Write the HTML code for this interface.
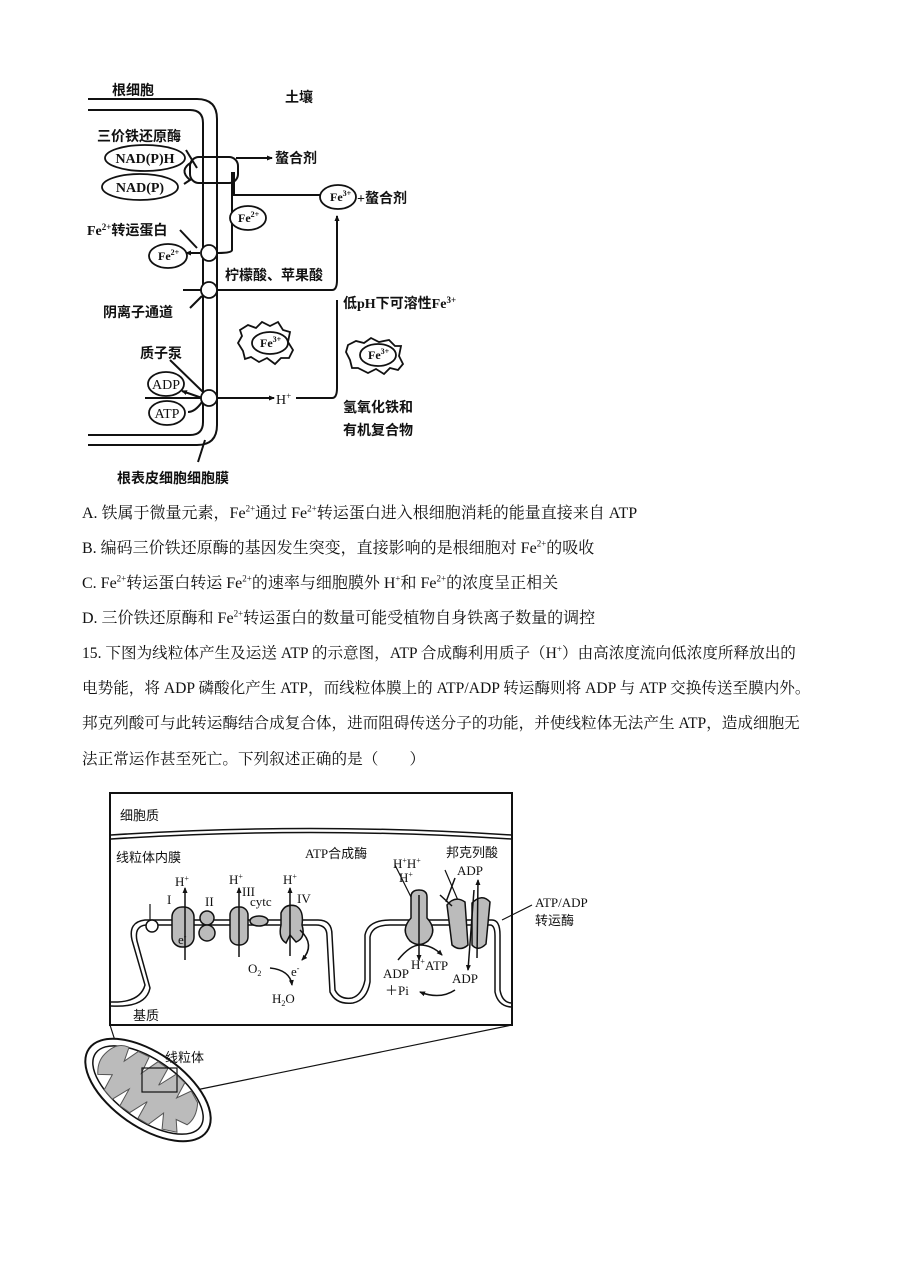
<!DOCTYPE html>
<html><head><meta charset="utf-8"><style>
html,body{margin:0;padding:0;background:#fff;}
body{width:900px;height:1273px;position:relative;overflow:hidden;font-family:"Liberation Serif","Noto Serif CJK SC","Noto Sans CJK SC",serif;color:#111;}
.q{position:absolute;left:82px;font-size:16px;white-space:nowrap;}
.p{font-size:15.6px;}
sup{font-size:9px;}
</style></head><body>
<svg width="900" height="1273" style="position:absolute;left:0;top:0" font-family="Liberation Serif, Noto Sans CJK SC, sans-serif">
<defs><marker id="a" markerWidth="6" markerHeight="6" refX="5" refY="3" orient="auto" markerUnits="userSpaceOnUse"><path d="M0,0.5 L6,3 L0,5.5z" fill="#111"/></marker></defs>
<g fill="none" stroke="#111" stroke-width="2">
<path d="M88,99 H197 Q217,99 217,119 V425 Q217,445 197,445 H88"/>
<path d="M88,110 H190 Q203,110 203,123 V422 Q203,435 190,435 H88"/>
<rect x="190" y="157" width="48" height="26" rx="9"/>
<path d="M236,158 H272" marker-end="url(#a)"/>
<path d="M234,172 V195 H320"/>
<path d="M232,172 V250 Q232,253 218,253"/>
<path d="M200,253 H186" marker-end="url(#a)"/>
<path d="M192,162 Q178,170 190,180 L184,184" />
<path d="M183,290 H332 Q337,290 337,280 V216" marker-end="url(#a)"/>
<path d="M145,398 H274" marker-end="url(#a)"/>
<path d="M296,398 H332 Q337,398 337,388 V300"/>
<path d="M202,398 L182,391" marker-end="url(#a)"/>
<path d="M202,402 Q195,412 188,412"/>
<path d="M197,168 L186,150"/><path d="M197,248 L180,230"/><path d="M202,296 L190,308"/><path d="M203,392 L170,360"/><path d="M205,440 L198,462"/>
</g>
<g fill="#fff" stroke="#111" stroke-width="1.8">
<ellipse cx="145" cy="158" rx="40" ry="13"/><ellipse cx="140" cy="187" rx="38" ry="13"/>
<ellipse cx="338" cy="197" rx="18" ry="12"/><ellipse cx="248" cy="218" rx="18" ry="12"/>
<ellipse cx="168" cy="256" rx="19" ry="12"/>
<circle cx="209" cy="253" r="8"/><circle cx="209" cy="290" r="8"/><circle cx="209" cy="398" r="8"/>
<ellipse cx="166" cy="384" rx="18" ry="12"/><ellipse cx="167" cy="413" rx="18" ry="12"/>
<path d="M240,330 l8,-5 l8,3 l6,-6 l8,4 l8,-4 l5,8 l7,2 l-2,10 l5,8 l-4,8 l-8,0 l-6,6 l-8,-6 l-8,4 l-8,-5 l-6,2 l-2,-8 l-5,-8 l4,-7z"/>
<ellipse cx="270" cy="343" rx="18" ry="11"/>
<path d="M348,345 l8,-4 l8,2 l7,-5 l8,4 l10,-2 l6,6 l6,0 l-2,10 l4,8 l-5,6 l-8,-2 l-6,6 l-8,-5 l-8,4 l-10,-5 l-6,0 l-2,-8 l-4,-8z"/>
<ellipse cx="378" cy="355" rx="18" ry="11"/>
</g>
<g font-size="14" font-weight="bold" fill="#111">
<text x="112" y="95">根细胞</text><text x="285" y="102">土壤</text>
<text x="97" y="141">三价铁还原酶</text>
<text x="145" y="163" text-anchor="middle">NAD(P)H</text><text x="140" y="192" text-anchor="middle">NAD(P)</text>
<text x="275" y="163">螯合剂</text>
<text x="330" y="201" font-size="12">Fe<tspan font-size="8" dy="-5">3+</tspan></text><text x="357" y="203">+螯合剂</text>
<text x="238" y="222" font-size="12">Fe<tspan font-size="8" dy="-5">2+</tspan></text>
<text x="87" y="235">Fe<tspan font-size="9" dy="-5">2+</tspan><tspan dy="5">转运蛋白</tspan></text>
<text x="158" y="260" font-size="12">Fe<tspan font-size="8" dy="-5">2+</tspan></text>
<text x="225" y="280">柠檬酸、苹果酸</text>
<text x="103" y="317">阴离子通道</text>
<text x="343" y="308">低pH下可溶性Fe<tspan font-size="9" dy="-5">3+</tspan></text>
<text x="260" y="347" font-size="12">Fe<tspan font-size="8" dy="-5">3+</tspan></text>
<text x="368" y="359" font-size="12">Fe<tspan font-size="8" dy="-5">3+</tspan></text>
<text x="140" y="358">质子泵</text>
<text x="166" y="389" text-anchor="middle" font-weight="normal">ADP</text><text x="167" y="418" text-anchor="middle" font-weight="normal">ATP</text>
<text x="276" y="404" font-weight="normal">H<tspan font-size="9" dy="-5">+</tspan></text>
<text x="343" y="412">氢氧化铁和</text><text x="343" y="435">有机复合物</text>
<text x="117" y="483">根表皮细胞细胞膜</text>
</g>
<!-- diagram 2 -->
<g fill="none" stroke="#111">
<rect x="110" y="793" width="402" height="232" stroke-width="2"/>
<path d="M111,835 Q310,822 511,835" stroke-width="1.5"/><path d="M111,839 Q310,826 511,839" stroke-width="1.5"/>
<path d="M111,1002 Q140,1003 145,985 L132,940 Q128,922 145,920 H318 Q332,920 332,935 L335,990 Q340,1000 352,998 Q362,995 365,980 V935 Q368,920 390,920 H492 Q500,920 500,935 V990 Q502,1002 511,1003" stroke-width="1.5"/>
<path d="M111,1006 Q146,1008 150,988 L137,941 Q134,926 146,925 H316 Q327,925 327,936 L330,992 Q336,1005 353,1003 Q367,1000 370,982 V937 Q372,925 390,925 H490 Q495,925 495,936 V992 Q498,1006 511,1007" stroke-width="1.5"/>
<path d="M110,1025 L118,1050 M512,1025 L196,1090" stroke-width="1.2"/>
<path d="M150,904 L150,923" stroke-width="1.2"/>
<path d="M395,865 L420,915 M445,870 L460,905 M502,920 L532,905" stroke-width="1.2"/>
</g>
<g fill="#bbb" stroke="#111" stroke-width="1.5">
<rect x="172" y="907" width="22" height="40" rx="10"/>
<circle cx="207" cy="918" r="7"/><circle cx="207" cy="933" r="8"/>
<rect x="230" y="907" width="18" height="38" rx="8"/>
<ellipse cx="259" cy="921" rx="9" ry="5"/>
<path d="M281,913 Q285,903 296,906 Q304,910 302,925 Q306,938 296,942 L290,935 L286,943 Q278,938 281,925z"/>
<path d="M411,897 Q411,890 419,890 Q427,890 427,897 V918 Q438,930 428,941 Q419,948 410,941 Q400,930 411,918z"/>
<path d="M447,905 Q455,895 465,902 L468,945 Q460,952 452,945z"/><path d="M472,903 Q482,893 490,902 L486,944 Q478,952 472,945z"/>
<circle cx="152" cy="926" r="6" fill="#fff"/>
</g>
<g fill="none" stroke="#111" stroke-width="1.5">
<path d="M185,960 V888" marker-end="url(#a)"/><path d="M239,957 V888" marker-end="url(#a)"/>
<path d="M290,956 V888" marker-end="url(#a)"/>
<path d="M419,895 V960" marker-end="url(#a)"/>
<path d="M477,958 L478,880" marker-end="url(#a)"/><path d="M474,890 L468,970" marker-end="url(#a)"/>
<path d="M455,878 L446,902 M440,895 L452,906"/>
<path d="M300,930 Q316,945 302,960" marker-end="url(#a)"/>
<path d="M270,968 Q290,970 292,985" marker-end="url(#a)"/>
<path d="M398,960 Q410,945 420,945 Q432,945 442,955" marker-end="url(#a)"/>
<path d="M455,990 Q440,1000 420,992" marker-end="url(#a)"/>
</g>
<g transform="rotate(35 148 1090)">
<ellipse cx="148" cy="1090" rx="72" ry="37" fill="#fff" stroke="#111" stroke-width="2"/>
<ellipse cx="148" cy="1090" rx="64" ry="30" fill="none" stroke="#111" stroke-width="1.5"/>
<path d="M92,1085 Q95,1068 108,1066 L112,1080 L118,1064 L130,1062 L133,1080 L140,1061 L152,1061 L154,1080 L162,1061 L174,1063 L176,1080 L184,1066 L196,1072 Q204,1085 200,1096 L188,1098 L196,1108 L182,1114 L174,1100 L168,1118 L156,1119 L154,1100 L146,1119 L134,1119 L132,1100 L124,1118 L112,1115 L110,1098 L98,1106 Q90,1096 92,1085z" fill="#bbb" stroke="#555"/>
</g>
<rect x="142" y="1068" width="35" height="24" fill="none" stroke="#111" stroke-width="1.2"/>
<g font-size="13" fill="#111">
<text x="120" y="820" font-family="Noto Sans CJK SC,sans-serif">细胞质</text>
<text x="116" y="862" font-family="Noto Sans CJK SC,sans-serif">线粒体内膜</text>
<text x="175" y="886">H<tspan font-size="8" dy="-5">+</tspan></text><text x="167" y="904">I</text>
<text x="205" y="906">II</text>
<text x="229" y="884">H<tspan font-size="8" dy="-5">+</tspan></text><text x="242" y="896">III</text>
<text x="250" y="906">cytc</text>
<text x="283" y="884">H<tspan font-size="8" dy="-5">+</tspan></text><text x="297" y="903">IV</text>
<text x="178" y="944">e<tspan font-size="8" dy="-5">-</tspan></text>
<text x="291" y="976">e<tspan font-size="8" dy="-5">-</tspan></text>
<text x="248" y="973">O<tspan font-size="8" dy="3">2</tspan></text>
<text x="272" y="1003">H<tspan font-size="8" dy="3">2</tspan><tspan dy="-3">O</tspan></text>
<text x="305" y="858">ATP<tspan font-family="Noto Sans CJK SC,sans-serif">合成酶</tspan></text>
<text x="393" y="868">H<tspan font-size="8" dy="-5">+</tspan><tspan dy="5">H</tspan><tspan font-size="8" dy="-5">+</tspan></text>
<text x="399" y="882">H<tspan font-size="8" dy="-5">+</tspan></text>
<text x="446" y="857" font-family="Noto Sans CJK SC,sans-serif">邦克列酸</text>
<text x="457" y="875">ADP</text>
<text x="535" y="907">ATP/ADP</text><text x="535" y="925" font-family="Noto Sans CJK SC,sans-serif">转运酶</text>
<text x="411" y="969">H<tspan font-size="8" dy="-5">+</tspan></text>
<text x="383" y="978">ADP</text><text x="385" y="995">＋Pi</text>
<text x="425" y="970">ATP</text><text x="452" y="983">ADP</text>
<text x="133" y="1020" font-family="Noto Sans CJK SC,sans-serif">基质</text>
<text x="165" y="1062" font-family="Noto Sans CJK SC,sans-serif">线粒体</text>
</g>
</svg>
<div class="q" style="top:500px">A. 铁属于微量元素，Fe<sup>2+</sup>通过 Fe<sup>2+</sup>转运蛋白进入根细胞消耗的能量直接来自 ATP</div>
<div class="q" style="top:535px">B. 编码三价铁还原酶的基因发生突变，直接影响的是根细胞对 Fe<sup>2+</sup>的吸收</div>
<div class="q" style="top:570px">C. Fe<sup>2+</sup>转运蛋白转运 Fe<sup>2+</sup>的速率与细胞膜外 H<sup>+</sup>和 Fe<sup>2+</sup>的浓度呈正相关</div>
<div class="q" style="top:605px">D. 三价铁还原酶和 Fe<sup>2+</sup>转运蛋白的数量可能受植物自身铁离子数量的调控</div>
<div class="q p" style="top:641px">15. 下图为线粒体产生及运送 ATP 的示意图，ATP 合成酶利用质子（H<sup>+</sup>）由高浓度流向低浓度所释放出的</div>
<div class="q p" style="top:676px">电势能，将 ADP 磷酸化产生 ATP，而线粒体膜上的 ATP/ADP 转运酶则将 ADP 与 ATP 交换传送至膜内外。</div>
<div class="q p" style="top:711px">邦克列酸可与此转运酶结合成复合体，进而阻碍传送分子的功能，并使线粒体无法产生 ATP，造成细胞无</div>
<div class="q p" style="top:747px">法正常运作甚至死亡。下列叙述正确的是（　　）</div>
</body></html>
